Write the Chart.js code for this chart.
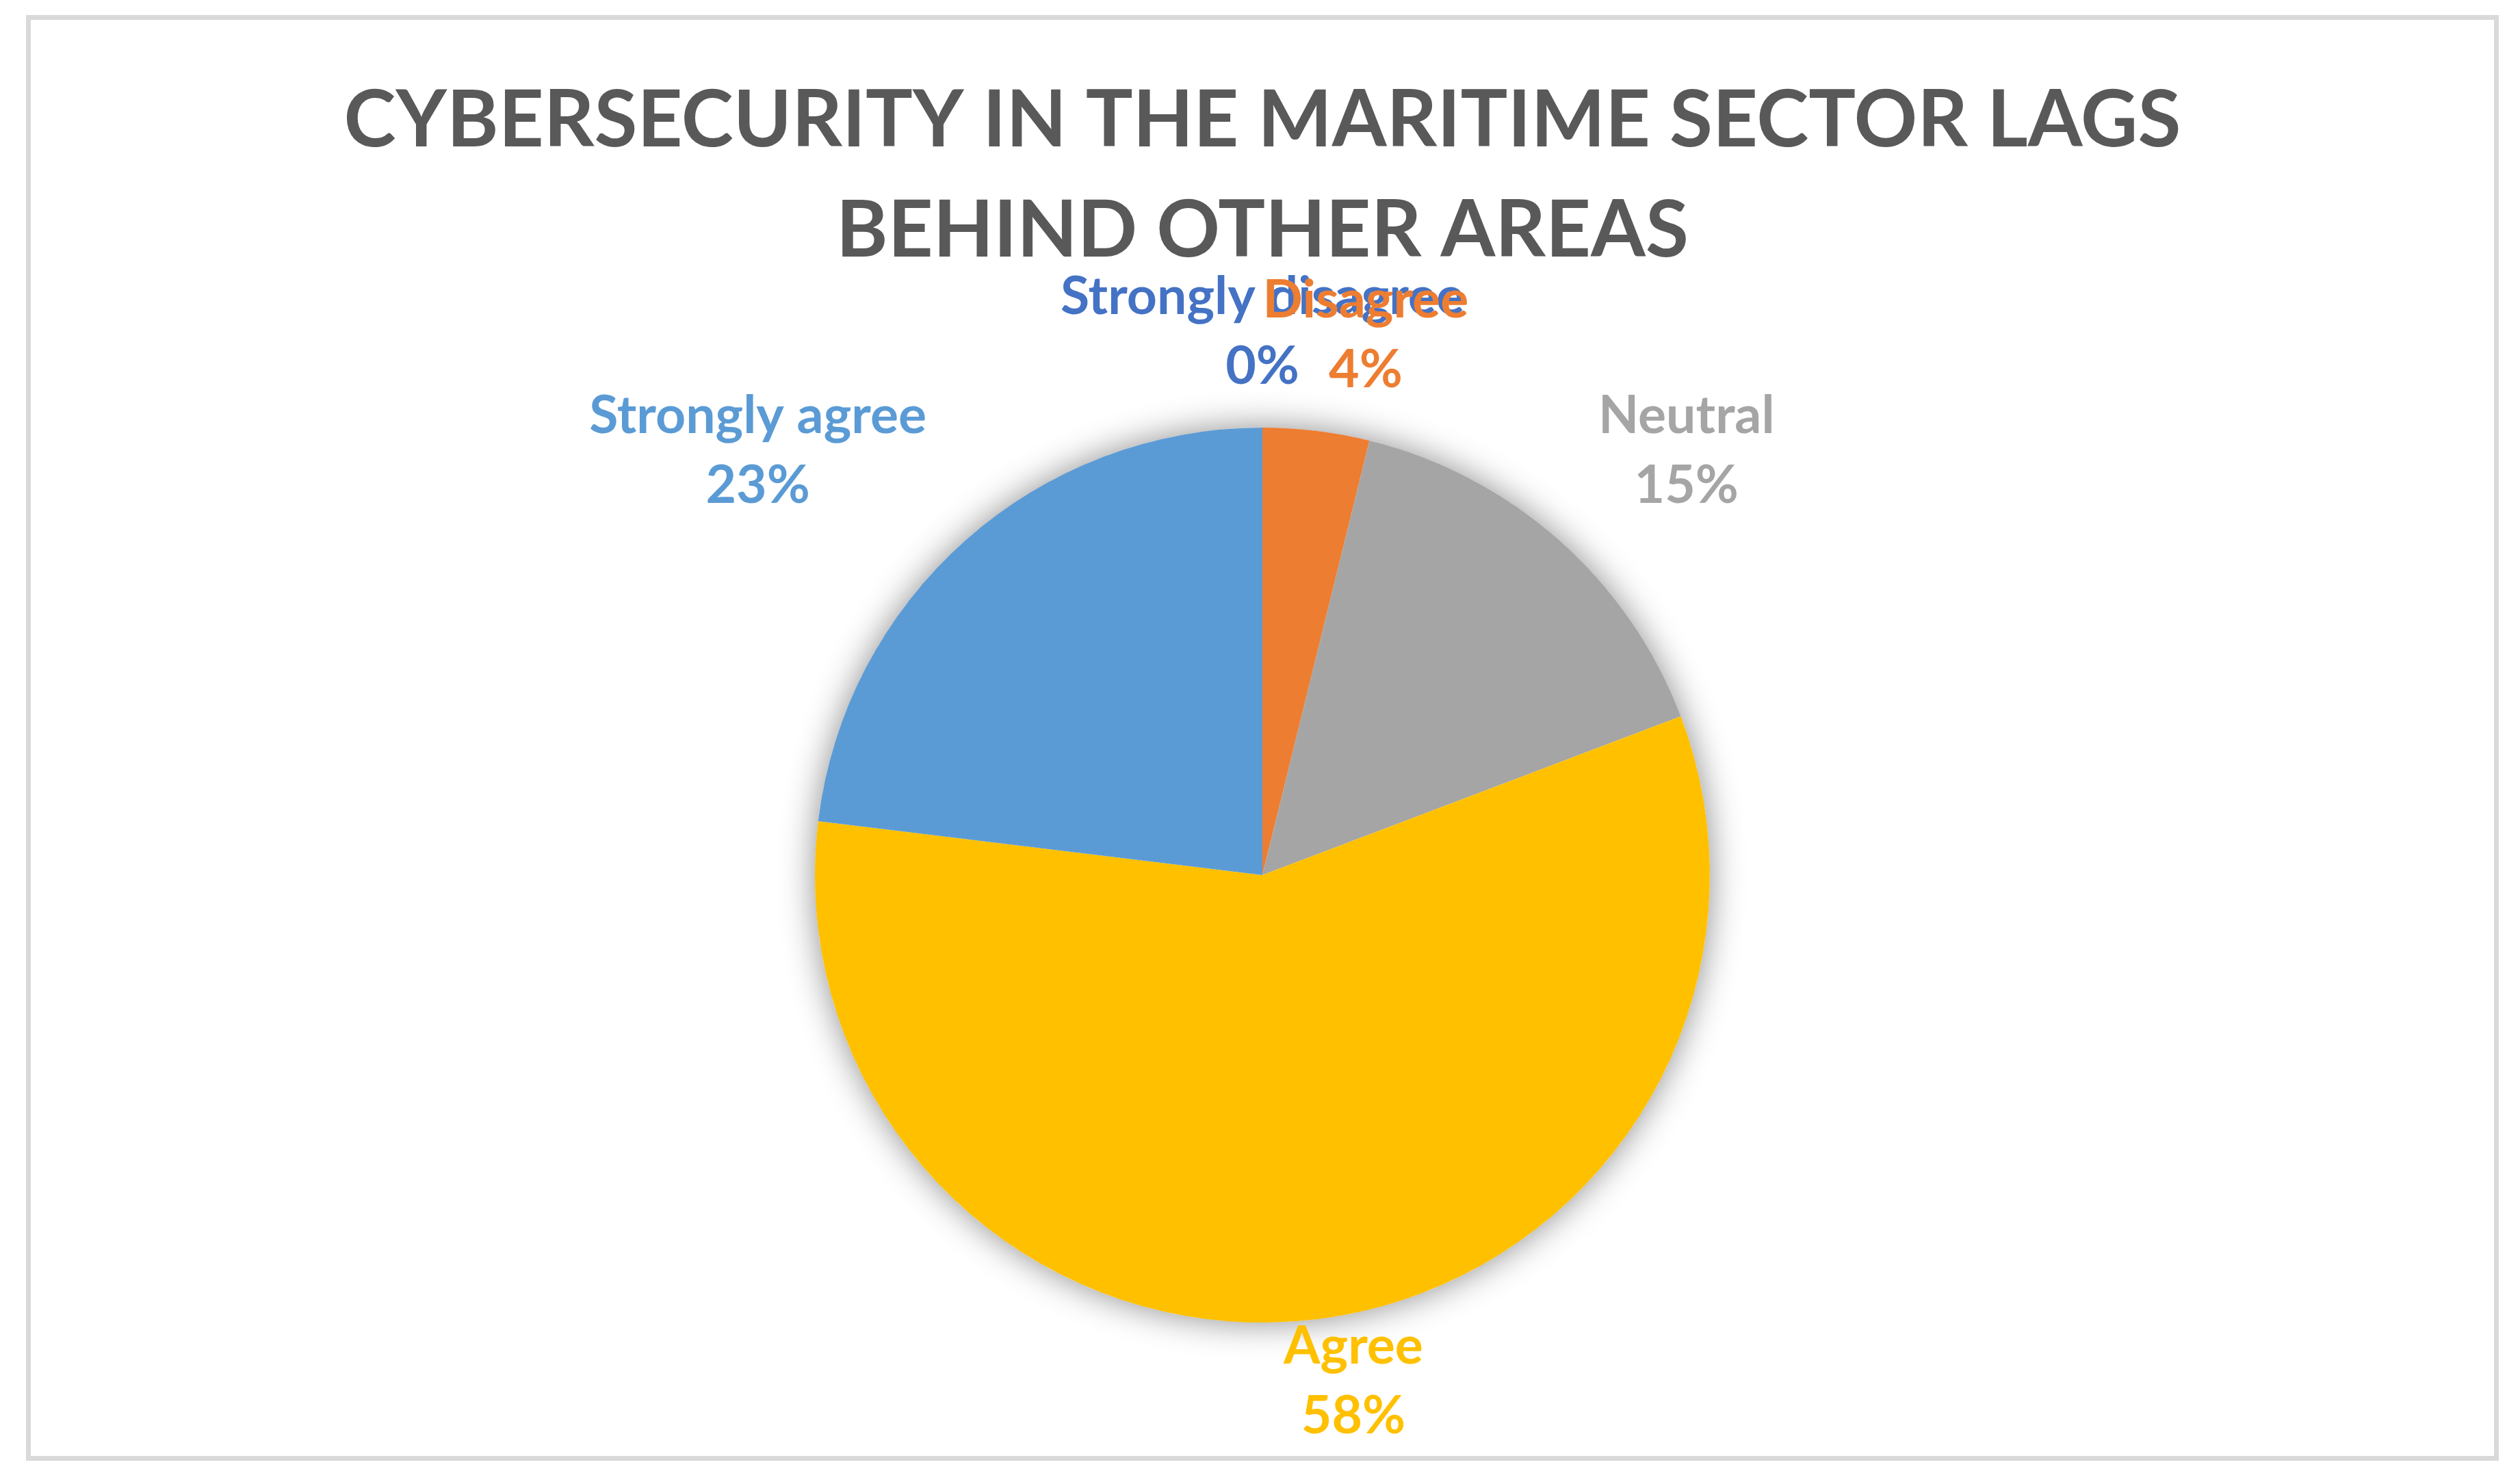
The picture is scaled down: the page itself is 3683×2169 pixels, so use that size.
<!DOCTYPE html>
<html>
<head>
<meta charset="utf-8">
<title>Cybersecurity in the maritime sector</title>
<script src="https://cdn.jsdelivr.net/npm/chart.js@4.4.1/dist/chart.umd.min.js"></script>
<style>
  html, body { margin: 0; padding: 0; background: #fff; overflow: hidden; }
  #wrap { position: relative; width: 3683px; height: 2169px; }
</style>
</head>
<body>
<div id="wrap"><canvas id="pie"></canvas></div>
<script>
// answers, clockwise from 12 o'clock
const categories = ['Strongly disagree', 'Disagree', 'Neutral', 'Agree', 'Strongly agree'];
// respondents per answer
const responses = [0, 1, 4, 15, 6];
const sliceColors = ['#4472C4', '#ED7D31', '#A5A5A5', '#FFC000', '#5B9BD5'];
const titleLines = ['CYBERSECURITY IN THE MARITIME SECTOR LAGS', 'BEHIND OTHER AREAS'];

(function () {
  const FONT = 'Lato, "Open Sans", "Noto Sans", sans-serif';
  // inner edge of the grey frame
  const FRAME = { left: 45, top: 29, right: 3645, bottom: 2128 };

  // font size giving a string the width it has in the picture
  function fitSize(text, targetWidth) {
    const c = document.createElement('canvas').getContext('2d');
    c.font = `bold 100px ${FONT}`;
    return (100 * targetWidth) / c.measureText(text).width;
  }
  const titleSize = fitSize(titleLines[0], 2685);
  const labelSize = fitSize(categories[4], 493);

  const clamp1 = (v) => Math.max(-1, Math.min(1, v));

  // white background + light grey border
  const framePlugin = {
    id: 'frame',
    beforeDraw(chart) {
      const { ctx } = chart;
      ctx.save();
      ctx.fillStyle = '#fff';
      ctx.fillRect(0, 0, chart.width, chart.height);
      ctx.strokeStyle = '#d9d9d9';
      ctx.lineWidth = 7;
      ctx.strokeRect(FRAME.left - 3.5, FRAME.top - 3.5, FRAME.right - FRAME.left + 7, FRAME.bottom - FRAME.top + 7);
      ctx.restore();
    },
  };

  // soft shadow under the pie
  const shadowPlugin = {
    id: 'pieShadow',
    beforeDatasetsDraw(chart) {
      const arc = chart.getDatasetMeta(0).data[0];
      if (!arc) return;
      const { x, y, outerRadius } = arc.getProps(['x', 'y', 'outerRadius'], true);
      const { ctx } = chart;
      ctx.save();
      ctx.shadowColor = 'rgba(0,0,0,0.45)';
      ctx.shadowBlur = 50;
      ctx.fillStyle = '#fff';
      ctx.beginPath();
      ctx.arc(x, y, outerRadius, 0, Math.PI * 2);
      ctx.fill();
      ctx.restore();
    },
  };

  // "name \n pct" outside each slice, Excel-like
  const labelPlugin = {
    id: 'sliceLabels',
    afterDatasetsDraw(chart) {
      const { ctx } = chart;
      const meta = chart.getDatasetMeta(0);
      const total = responses.reduce((a, b) => a + b, 0);
      const lineH = 102, padX = 32, gap = 38, k = 3.07;
      ctx.save();
      ctx.font = `bold ${labelSize}px ${FONT}`;
      ctx.textAlign = 'center';
      ctx.textBaseline = 'middle';
      meta.data.forEach((arc, i) => {
        const { x, y, startAngle, endAngle, outerRadius } =
          arc.getProps(['x', 'y', 'startAngle', 'endAngle', 'outerRadius'], true);
        const mid = (startAngle + endAngle) / 2;
        const dx = Math.cos(mid), dy = Math.sin(mid);
        const lines = [categories[i], Math.round((responses[i] / total) * 100) + '%'];
        const w = Math.max(...lines.map((t) => ctx.measureText(t).width));
        const halfW = w / 2 + padX, halfH = lineH;
        let cx = x + dx * (outerRadius + gap) + halfW * clamp1(dx * k);
        let cy = y + dy * (outerRadius + gap) + halfH * clamp1(dy * k);
        // keep inside the frame
        cx = Math.max(FRAME.left + 7 + halfW, Math.min(FRAME.right - 7 - halfW, cx));
        cy = Math.max(FRAME.top + 7 + halfH, Math.min(FRAME.bottom - 7 - halfH, cy));
        ctx.fillStyle = sliceColors[i];
        ctx.fillText(lines[0], cx, cy - lineH / 2);
        ctx.fillText(lines[1], cx, cy + lineH / 2);
      });
      ctx.restore();
    },
  };

  const canvas = document.getElementById('pie');
  new Chart(canvas.getContext('2d'), {
    type: 'pie',
    data: {
      labels: categories,
      datasets: [
        {
          data: responses,
          backgroundColor: sliceColors,
          borderWidth: 0,
          offset: 0,
          hoverOffset: 0,
        },
      ],
    },
    options: {
      responsive: true,
      maintainAspectRatio: false,
      devicePixelRatio: 1,
      animation: false,
      layout: { padding: { left: 7, right: 0, top: 0, bottom: 236 } },
      plugins: {
        legend: { display: false },
        tooltip: { enabled: false },
        title: {
          display: true,
          text: titleLines,
          color: '#595959',
          font: { family: FONT, size: titleSize, weight: 'bold', lineHeight: 161 / titleSize },
          padding: { top: 96, bottom: 207 },
        },
      },
    },
    plugins: [framePlugin, shadowPlugin, labelPlugin],
  });
})();
</script>
</body>
</html>
